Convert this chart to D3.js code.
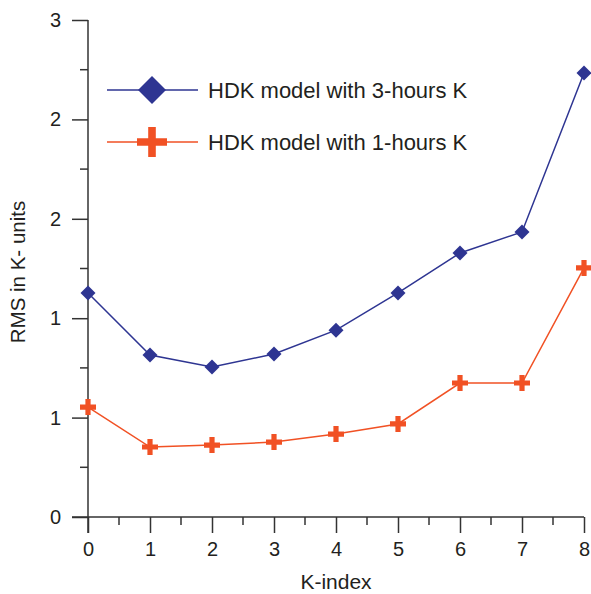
<!DOCTYPE html>
<html>
<head>
<meta charset="utf-8">
<script src="https://cdn.jsdelivr.net/npm/d3@7"></script>
<style>
  body { margin: 0; background: #fff; }
  text { font-family: "Liberation Sans", Arial, sans-serif; fill: #231f20; }
</style>
</head>
<body>
<div id="chart"></div>
<script>
const kIndex = [0, 1, 2, 3, 4, 5, 6, 7, 8]
const rms3h = [1.127, 0.815, 0.755, 0.82, 0.94, 1.127, 1.328, 1.434, 2.233]
const rms1h = [0.553, 0.352, 0.362, 0.377, 0.417, 0.468, 0.674, 0.674, 1.253]
const yTicks = [0, 0.5, 1, 1.5, 2, 2.5]
const seriesNames = ["HDK model with 3-hours K", "HDK model with 1-hours K"]

const blue = "#2e3592"
const red = "#f15124"
const axisColor = "#333"

const W = 591, H = 594
const svg = d3.select("#chart").append("svg").attr("width", W).attr("height", H)

const x = d3.scaleLinear().domain([0, 8]).range([88, 584])
const y = d3.scaleLinear().domain([0, 2.5]).range([517, 20])

// diamond and cross paths centred on 0,0
function diamond(r) {
  return `M0,${-r}L${r},0L0,${r}L${-r},0Z`
}
function cross(r, a) {
  return `M${-a},${-r}H${a}V${-a}H${r}V${a}H${a}V${r}H${-a}V${a}H${-r}V${-a}H${-a}Z`
}

// y axis
const yAxis = svg.append("g").attr("transform", `translate(${x(0)},0)`)
  .call(d3.axisLeft(y).tickValues(yTicks).tickSize(16).tickPadding(11)
    .tickFormat(d => Math.round(d)))
yAxis.select(".domain").attr("d", `M0,${y(2.5)}V${y(0) + 16}`)
yAxis.selectAll(".tick line").attr("stroke", axisColor).attr("stroke-width", 1.5)
yAxis.select(".domain").attr("stroke", axisColor).attr("stroke-width", 1.5)
yAxis.selectAll(".tick text").attr("font-size", 20).attr("font-family", "Liberation Sans, Arial, sans-serif").attr("fill", "#231f20")
yAxis.selectAll(".minor").data(d3.range(0.25, 2.5, 0.5)).enter().append("line")
  .attr("class", "minor")
  .attr("x1", -8).attr("x2", 0)
  .attr("y1", d => y(d)).attr("y2", d => y(d))
  .attr("stroke", axisColor).attr("stroke-width", 1.5)

// x axis
const xAxis = svg.append("g").attr("transform", `translate(0,${y(0)})`)
  .call(d3.axisBottom(x).tickValues(kIndex).tickSize(16).tickPadding(9))
xAxis.select(".domain").attr("d", `M${x(0) - 16},0H${x(8)}`)
  .attr("stroke", axisColor).attr("stroke-width", 1.5)
xAxis.selectAll(".tick line").attr("stroke", axisColor).attr("stroke-width", 1.5)
xAxis.selectAll(".tick text").attr("font-size", 20).attr("font-family", "Liberation Sans, Arial, sans-serif").attr("fill", "#231f20")
xAxis.selectAll(".minor").data(d3.range(0.5, 8, 1)).enter().append("line")
  .attr("class", "minor")
  .attr("x1", d => x(d)).attr("x2", d => x(d))
  .attr("y1", 0).attr("y2", 8)
  .attr("stroke", axisColor).attr("stroke-width", 1.5)

// axis titles
svg.append("text")
  .attr("x", 336).attr("y", 589)
  .attr("text-anchor", "middle").attr("font-size", 21)
  .text("K-index")

svg.append("text")
  .attr("transform", `translate(25,272) rotate(-90)`)
  .attr("text-anchor", "middle").attr("font-size", 20.5)
  .text("RMS in K- units")

// lines
const line = d3.line().x((d, i) => x(kIndex[i])).y(d => y(d))

svg.append("path").datum(rms3h)
  .attr("d", line).attr("fill", "none").attr("stroke", blue).attr("stroke-width", 1.5)
svg.append("path").datum(rms1h)
  .attr("d", line).attr("fill", "none").attr("stroke", red).attr("stroke-width", 1.5)

svg.selectAll(".m3").data(rms3h).enter().append("path")
  .attr("class", "m3")
  .attr("transform", (d, i) => `translate(${x(kIndex[i])},${y(d)})`)
  .attr("d", diamond(7.5)).attr("fill", blue)

svg.selectAll(".m1").data(rms1h).enter().append("path")
  .attr("class", "m1")
  .attr("transform", (d, i) => `translate(${x(kIndex[i])},${y(d)})`)
  .attr("d", cross(8, 2.6)).attr("fill", red)

// legend
const legend = svg.append("g")
const legendRows = [
  { name: seriesNames[0], color: blue, mark: diamond(14), y: 90 },
  { name: seriesNames[1], color: red, mark: cross(15, 3.8), y: 142 }
]
legendRows.forEach(r => {
  legend.append("line")
    .attr("x1", 107).attr("x2", 198).attr("y1", r.y).attr("y2", r.y)
    .attr("stroke", r.color).attr("stroke-width", 1.5)
  legend.append("path")
    .attr("transform", `translate(152,${r.y})`)
    .attr("d", r.mark).attr("fill", r.color)
  legend.append("text")
    .attr("x", 208).attr("y", r.y + 8)
    .attr("font-size", 22)
    .text(r.name)
})
</script>
</body>
</html>
